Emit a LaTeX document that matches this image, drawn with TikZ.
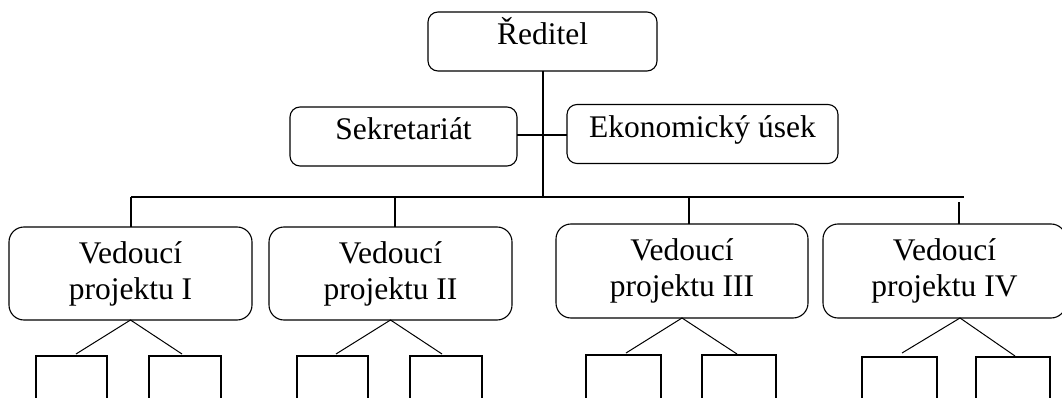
\documentclass[tikz,border=0pt]{standalone}
\usepackage{fontspec}
\setmainfont{Liberation Serif}
\begin{document}
\begin{tikzpicture}[x=1pt,y=-1pt,
  every node/.style={font=\fontsize{31.5}{36}\selectfont, inner sep=0pt, outer sep=0pt},
  topbox/.style={draw, line width=1.1pt, rounded corners=10pt, minimum height=59pt, text height=22pt, text depth=15pt},
  projbox/.style={draw, line width=1.1pt, rounded corners=15pt, minimum width=243pt, minimum height=93pt, align=center},
  leaf/.style={draw, line width=1.1pt, minimum height=80pt, anchor=north},
  thick line/.style={line width=2pt},
  thin line/.style={line width=1pt}]
\clip (0,0) rectangle (1062,398);
\fill[white] (0,0) rectangle (1062,398);

% top level
\node[topbox, minimum width=229pt] (dir) at (542.5,41.5) {Ředitel};
\node[topbox, minimum width=227pt] (sek) at (403.5,136.5) {Sekretariát};
\node[topbox, minimum width=271pt] (eko) at (702.5,134) {Ekonomický úsek};

% project heads
\node[projbox] (p1) at (130.5,273.5) {Vedoucí\\projektu I};
\node[projbox] (p2) at (390.5,273.5) {Vedoucí\\projektu II};
\node[projbox, minimum width=252pt, minimum height=94pt] (p3) at (682,271) {Vedoucí\\projektu III};
\node[projbox, minimum height=94pt] (p4) at (944.5,271) {Vedoucí\\projektu IV};

% bar coordinates
\coordinate (barL) at (131,197);
\coordinate (barR) at (964,197);
\coordinate (d1) at (131,197);
\coordinate (d2) at (395,197);
\coordinate (d3) at (689,197);
\coordinate (d4) at (959,202);

% connectors
\draw[thick line] (dir.south) -- (dir.south |- barL);
\draw[thick line] (sek.east |- 0,135) -- (eko.west |- 0,135);
\draw[thick line] (barL) -- (barR);
\draw[thick line] (d1) -- (d1 |- p1.north);
\draw[thick line] (d2) -- (d2 |- p2.north);
\draw[thick line] (d3) -- (d3 |- p3.north);
\draw[thick line] (d4) -- (d4 |- p4.north);

% leaf boxes
\node[leaf, minimum width=71pt] (c11) at (71.5,356) {};
\node[leaf, minimum width=72pt] (c12) at (185,356) {};
\node[leaf, minimum width=71pt] (c21) at (332.5,356) {};
\node[leaf, minimum width=72pt] (c22) at (446,356) {};
\node[leaf, minimum width=75pt] (c31) at (623.5,355) {};
\node[leaf, minimum width=74pt] (c32) at (739,355) {};
\node[leaf, minimum width=75pt] (c41) at (899.5,357) {};
\node[leaf, minimum width=74pt] (c42) at (1013,357) {};

% leaf line ends
\coordinate (e11) at (76,354);
\coordinate (e12) at (182,354);
\coordinate (e21) at (336,354);
\coordinate (e22) at (442,354);
\coordinate (e31) at (626,353);
\coordinate (e32) at (737,354);
\coordinate (e41) at (902,353);
\coordinate (e42) at (1015,356);

\draw[thin line] (e11) -- (p1.south) -- (e12);
\draw[thin line] (e21) -- (p2.south) -- (e22);
\draw[thin line] (e31) -- (p3.south) -- (e32);
\draw[thin line] (e41) -- ([xshift=15.5pt]p4.south) -- (e42);
\end{tikzpicture}
\end{document}
